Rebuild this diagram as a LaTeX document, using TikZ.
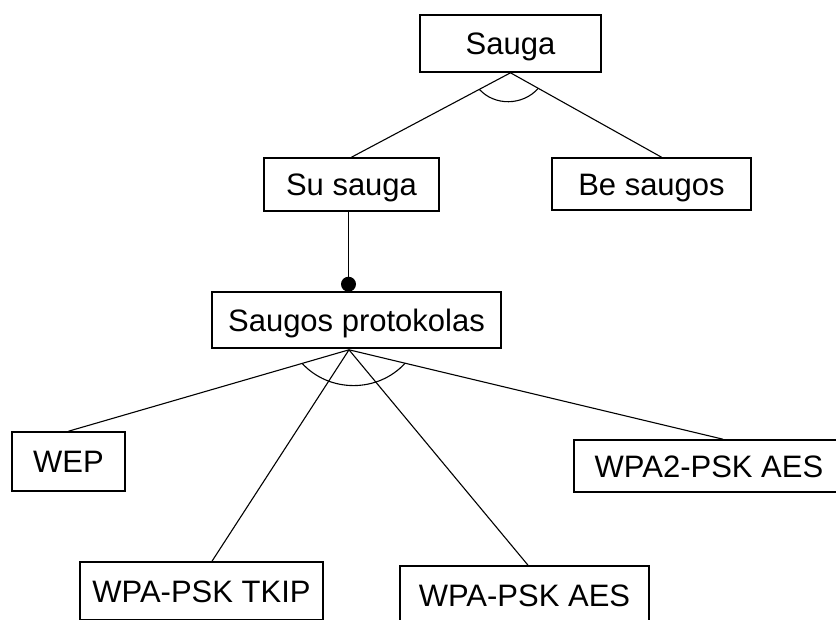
\documentclass[tikz,border=0pt]{standalone}
\usepackage{fontspec}
\setmainfont{Liberation Sans}
\usetikzlibrary{calc}
\begin{document}
\begin{tikzpicture}[x=1pt,y=-1pt,
  box/.style={draw=black,line width=1.6pt,inner sep=0pt,text height=22pt,text depth=0pt,
    font=\fontsize{31}{36}\selectfont},
  link/.style={draw=black,line width=1.1pt},
  dotnode/.style={circle,fill=black,inner sep=0pt,minimum size=15pt}]
\useasboundingbox (0,0) rectangle (836,619);
\clip (0,0) rectangle (836,619);
% boxes
\node[box,minimum width=181pt,minimum height=57pt] (sauga) at (510.5,43.5) {Sauga};
\node[box,minimum width=175pt,minimum height=53pt] (susauga) at (351.5,184.5) {Su sauga};
\node[box,minimum width=199pt,minimum height=52pt] (besaugos) at (651.5,184) {Be saugos};
\node[box,minimum width=289pt,minimum height=56pt] (prot) at (356.5,320) {Saugos protokolas};
\node[box,minimum width=113pt,minimum height=59pt] (wep) at (68.5,461.5) {WEP};
\node[box,minimum width=243pt,minimum height=58pt] (tkip) at (201.5,591) {WPA-PSK TKIP};
\node[box,minimum width=249pt,minimum height=58pt] (aes) at (524.5,595) {WPA-PSK AES};
\node[box,minimum width=270pt,minimum height=52pt] (wpa2) at (709,466) {WPA2-PSK AES};
% connection points
\coordinate (bsin) at ($(besaugos.north)+(10,0)$);
\coordinate (pj) at ($(prot.south)+(-7.5,1)$);
\coordinate (tkin) at ($(tkip.north)+(10.5,0)$);
\coordinate (aesin) at ($(aes.north)+(3.5,0)$);
\coordinate (w2in) at ($(wpa2.north)+(14,0)$);
% top level
\draw[link] (sauga.south) -- (susauga.north);
\draw[link] (sauga.south) -- (bsin);
\draw[link] ($(sauga.south)!0.196!(susauga.north)$) .. controls (494.5,106) and (522.5,106) .. ($(sauga.south)!0.184!(bsin)$);
% mandatory link with dot
\node[dotnode] (dot) at ($(prot.north)+(-8,-7)$) {};
\draw[link] (susauga.south -| dot) -- (dot);
% bottom level
\draw[link] (pj) -- (wep.north);
\draw[link] (pj) -- (tkin);
\draw[link] (pj) -- (aesin);
\draw[link] (pj) -- (w2in);
\draw[link] ($(pj)!0.167!(wep.north)$) .. controls (329.4,393) and (377.9,393) .. ($(pj)!0.15!(w2in)$);
\end{tikzpicture}
\end{document}
